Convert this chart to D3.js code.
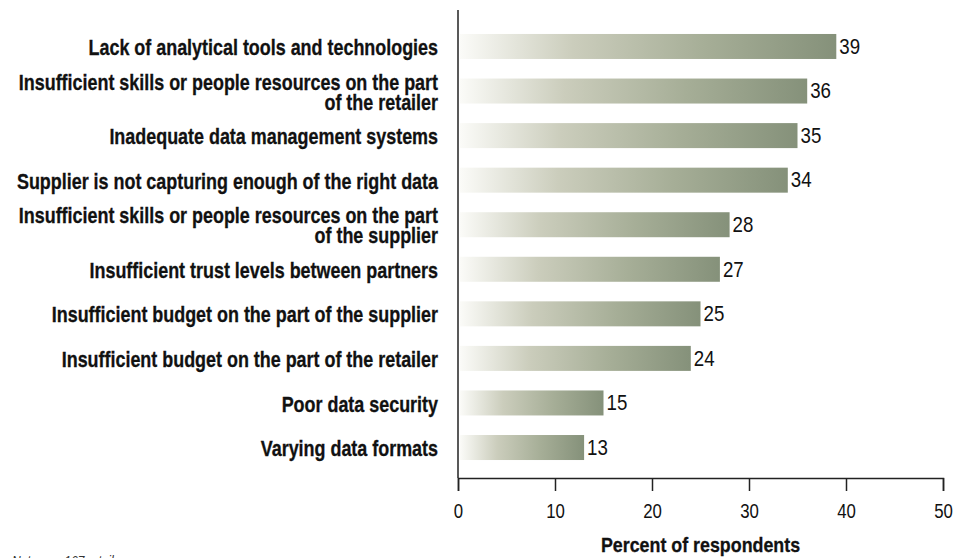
<!DOCTYPE html>
<html>
<head>
<meta charset="utf-8">
<script src="https://cdn.jsdelivr.net/npm/d3@7"></script>
<style>
  html, body { margin: 0; padding: 0; background: #fff; }
  svg { display: block; }
  text { font-family: "Liberation Sans", Arial, sans-serif; }
</style>
</head>
<body>
<svg id="chart" width="964" height="558"></svg>
<script>
// Obstacles to data sharing, share of respondents (%)
const categories = [
  ["Lack of analytical tools and technologies"],
  ["Insufficient skills or people resources on the part", "of the retailer"],
  ["Inadequate data management systems"],
  ["Supplier is not capturing enough of the right data"],
  ["Insufficient skills or people resources on the part", "of the supplier"],
  ["Insufficient trust levels between partners"],
  ["Insufficient budget on the part of the supplier"],
  ["Insufficient budget on the part of the retailer"],
  ["Poor data security"],
  ["Varying data formats"]
];
const values = [39, 36, 35, 34, 28, 27, 25, 24, 15, 13];
const xTicks = [0, 10, 20, 30, 40, 50];
const axisTitle = "Percent of respondents";
const note = "Note: n = 167 retailers";

const svg = d3.select("#chart");
const axisX = 458, axisBottom = 478, axisTop = 10, xMax = 943;
const labelRight = 438;
// horizontal squeeze that gives the condensed type look
const sqBold = 0.834, sqTitle = 0.85, sqReg = 0.8;

const x = d3.scaleLinear().domain([0, 50]).range([axisX, xMax]);
const y = d3.scaleBand()
  .domain(d3.range(categories.length))
  .range([24.2, 469.8])
  .paddingInner(0.439)
  .paddingOuter(0.2195);

// horizontal gradient applied per bar
const defs = svg.append("defs");
const grad = defs.append("linearGradient")
  .attr("id", "barGrad")
  .attr("x1", "0%").attr("x2", "100%").attr("y1", "0%").attr("y2", "0%");
grad.append("stop").attr("offset", "0%").attr("stop-color", "#fbfbf8");
grad.append("stop").attr("offset", "30%").attr("stop-color", "#cbcdbc");
grad.append("stop").attr("offset", "65%").attr("stop-color", "#a6ae97");
grad.append("stop").attr("offset", "100%").attr("stop-color", "#85917a");

// bars
svg.append("g").selectAll("rect")
  .data(values)
  .join("rect")
  .attr("x", x(0) + 2)
  .attr("y", (d, i) => y(i))
  .attr("width", d => x(d) - x(0) - 2)
  .attr("height", y.bandwidth())
  .attr("fill", "url(#barGrad)");

// value labels
svg.append("g").selectAll("text")
  .data(values)
  .join("text")
  .attr("transform", (d, i) => `translate(${x(d) + 3},${y(i) + y.bandwidth() / 2}) scale(0.85,1)`)
  .attr("dy", "0.33em")
  .attr("font-size", 22)
  .attr("fill", "#111")
  .text(d => d);

// category labels (right aligned, possibly two lines)
const lineH = 20;
const catG = svg.append("g");
categories.forEach((lines, i) => {
  const cy = y(i) + y.bandwidth() / 2;
  const t = catG.append("text")
    .attr("transform", `translate(${labelRight},0) scale(${sqBold},1)`)
    .attr("text-anchor", "end")
    .attr("font-weight", "bold")
    .attr("font-size", 21.5)
    .attr("fill", "#111")
    .attr("stroke", "#111")
    .attr("stroke-width", 0.3);
  lines.forEach((ln, j) => {
    t.append("tspan")
      .attr("x", 0)
      .attr("y", cy + (j - (lines.length - 1) / 2) * lineH)
      .attr("dy", "0.4em")
      .text(ln);
  });
});

// vertical axis line
svg.append("line")
  .attr("x1", axisX).attr("x2", axisX)
  .attr("y1", axisTop).attr("y2", axisBottom)
  .attr("stroke", "#222").attr("stroke-width", 1.5);

// x axis
const xAxis = d3.axisBottom(x).tickValues(xTicks).tickSize(13).tickPadding(12);
const gx = svg.append("g")
  .attr("transform", `translate(0,${axisBottom})`)
  .call(xAxis)
  .attr("font-family", null).attr("font-size", null);
gx.select(".domain").attr("stroke", "#222").attr("stroke-width", 1.5);
gx.selectAll(".tick line").attr("stroke", "#222").attr("stroke-width", 1.5);
gx.selectAll(".tick text")
  .attr("transform", `scale(${sqReg},1)`)
  .attr("font-size", 21)
  .attr("fill", "#111");

// axis title
svg.append("text")
  .attr("transform", `translate(${x(25)},552) scale(${sqTitle},1)`)
  .attr("text-anchor", "middle")
  .attr("font-weight", "bold")
  .attr("font-size", 21)
  .attr("fill", "#111")
  .attr("stroke", "#111")
  .attr("stroke-width", 0.3)
  .text(axisTitle);

// footnote
svg.append("text")
  .attr("transform", `translate(12,566) scale(${sqReg},1)`)
  .attr("font-style", "italic")
  .attr("font-size", 15)
  .attr("fill", "#333")
  .text(note);
</script>
</body>
</html>
